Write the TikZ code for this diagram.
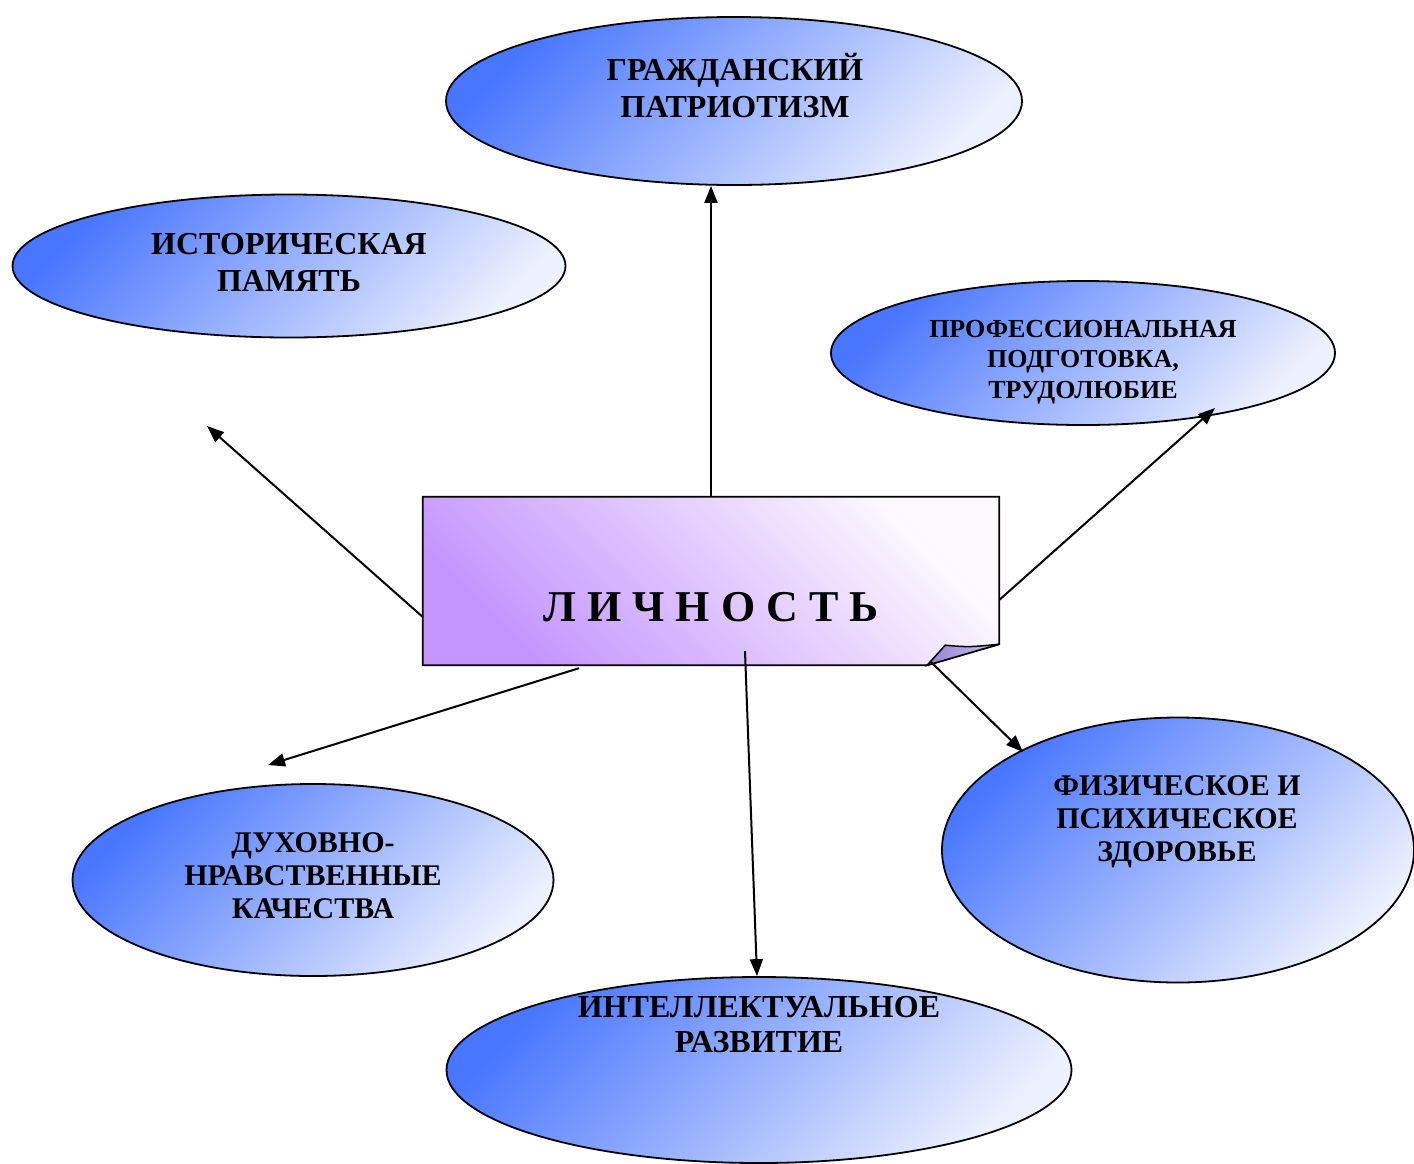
\documentclass[tikz,border=0pt]{standalone}
\usepackage{fontspec}
\setmainfont{Liberation Serif}
\usetikzlibrary{shapes.geometric,arrows.meta}
\definecolor{blueD}{RGB}{72,118,255}
\definecolor{blueL}{RGB}{236,240,255}
\definecolor{purpD}{RGB}{196,148,255}
\definecolor{purpL}{RGB}{253,250,255}
\definecolor{foldD}{RGB}{150,128,210}
\definecolor{foldL}{RGB}{205,195,238}
\begin{document}
\begin{tikzpicture}[x=1pt,y=-1pt,
  oval/.style={ellipse, draw=black, line width=1.8pt, inner sep=0pt,
    top color=blueD, bottom color=blueL, shading angle=45},
  lbl/.style={font=\bfseries\fontsize{32}{37}\selectfont, align=center, inner sep=0pt},
  lblm/.style={font=\bfseries\fontsize{30}{33}\selectfont, align=center, inner sep=0pt},
  lbls/.style={font=\bfseries\fontsize{26}{30.5}\selectfont, align=center, inner sep=0pt},
  arr/.style={line width=2pt, -{Triangle[length=17pt,width=13pt]}}]
\useasboundingbox (0,0) rectangle (1414,1163);
\fill[white] (0,0) rectangle (1414,1163);

% ellipses
\node[oval, minimum width=576pt, minimum height=168pt] (gp) at (734,101) {};
\node[oval, minimum width=553pt, minimum height=143pt] (ip) at (289,266) {};
\node[oval, minimum width=504pt, minimum height=144pt] (pp) at (1083,353) {};
\node[oval, minimum width=481pt, minimum height=192pt] (dn) at (313,880) {};
\node[oval, minimum width=625pt, minimum height=186pt] (ir) at (759,1070) {};
\node[oval, minimum width=472pt, minimum height=265pt] (fz) at (1178,850) {};

% ellipse texts
\node[lbl] (gpt) at (735,86) {ГРАЖДАНСКИЙ\\ПАТРИОТИЗМ};
\node[lbl] (ipt) at (289,262) {ИСТОРИЧЕСКАЯ\\ПАМЯТЬ};
\node[lbls] (ppt) at (1083,362) {ПРОФЕССИОНАЛЬНАЯ\\ПОДГОТОВКА,\\ТРУДОЛЮБИЕ};
\node[lblm] (dnt) at (313,876) {ДУХОВНО-\\НРАВСТВЕННЫЕ\\КАЧЕСТВА};
\node[lbl, font=\bfseries\fontsize{32}{35}\selectfont] (irt) at (759,1025) {ИНТЕЛЛЕКТУАЛЬНОЕ\\РАЗВИТИЕ};
\node[lblm] (fzt) at (1177,822) {ФИЗИЧЕСКОЕ И\\ПСИХИЧЕСКОЕ\\ЗДОРОВЬЕ};

% central box
\node[rectangle, minimum width=576pt, minimum height=168pt, inner sep=0pt] (lk) at (711,581) {};
\shade[top color=purpL, bottom color=purpD, shading angle=-45, draw=black, line width=1.8pt]
  (lk.north west) -- (lk.north east) -- ([yshift=21pt]lk.south east)
  -- ([xshift=-72pt]lk.south east) -- (lk.south west) -- cycle;
\shade[left color=foldD, right color=foldL, draw=black, line width=1.5pt]
  ([xshift=-72pt]lk.south east) -- ([xshift=-54pt,yshift=20pt]lk.south east)
  .. controls ([xshift=-30pt,yshift=18pt]lk.south east) .. ([yshift=21pt]lk.south east)
  -- cycle;
\node[font=\bfseries\fontsize{44}{50}\selectfont, inner sep=0pt] (lkt) at (711,607) {Л И Ч Н О С Т Ь};

% connectors
\coordinate (ul) at (207,426);
\coordinate (ll) at (268,765);
\draw[arr] (lk.north) -- (lk.north |- gp.south);
\draw[arr] ([yshift=-36pt]lk.west) -- (ul);
\draw[arr] ([yshift=-19pt]lk.east) -- ([xshift=132pt,yshift=-55pt]pp.center);
\draw[arr] ([xshift=-132pt,yshift=-3pt]lk.south) -- (ll);
\draw[arr] ([xshift=34pt,yshift=14pt]lk.south) -- ([xshift=-2pt]ir.north);
\draw[arr] ([xshift=-69pt,yshift=4pt]lk.south east) -- ([xshift=-155pt,yshift=98pt]fz.center);
\end{tikzpicture}
\end{document}
